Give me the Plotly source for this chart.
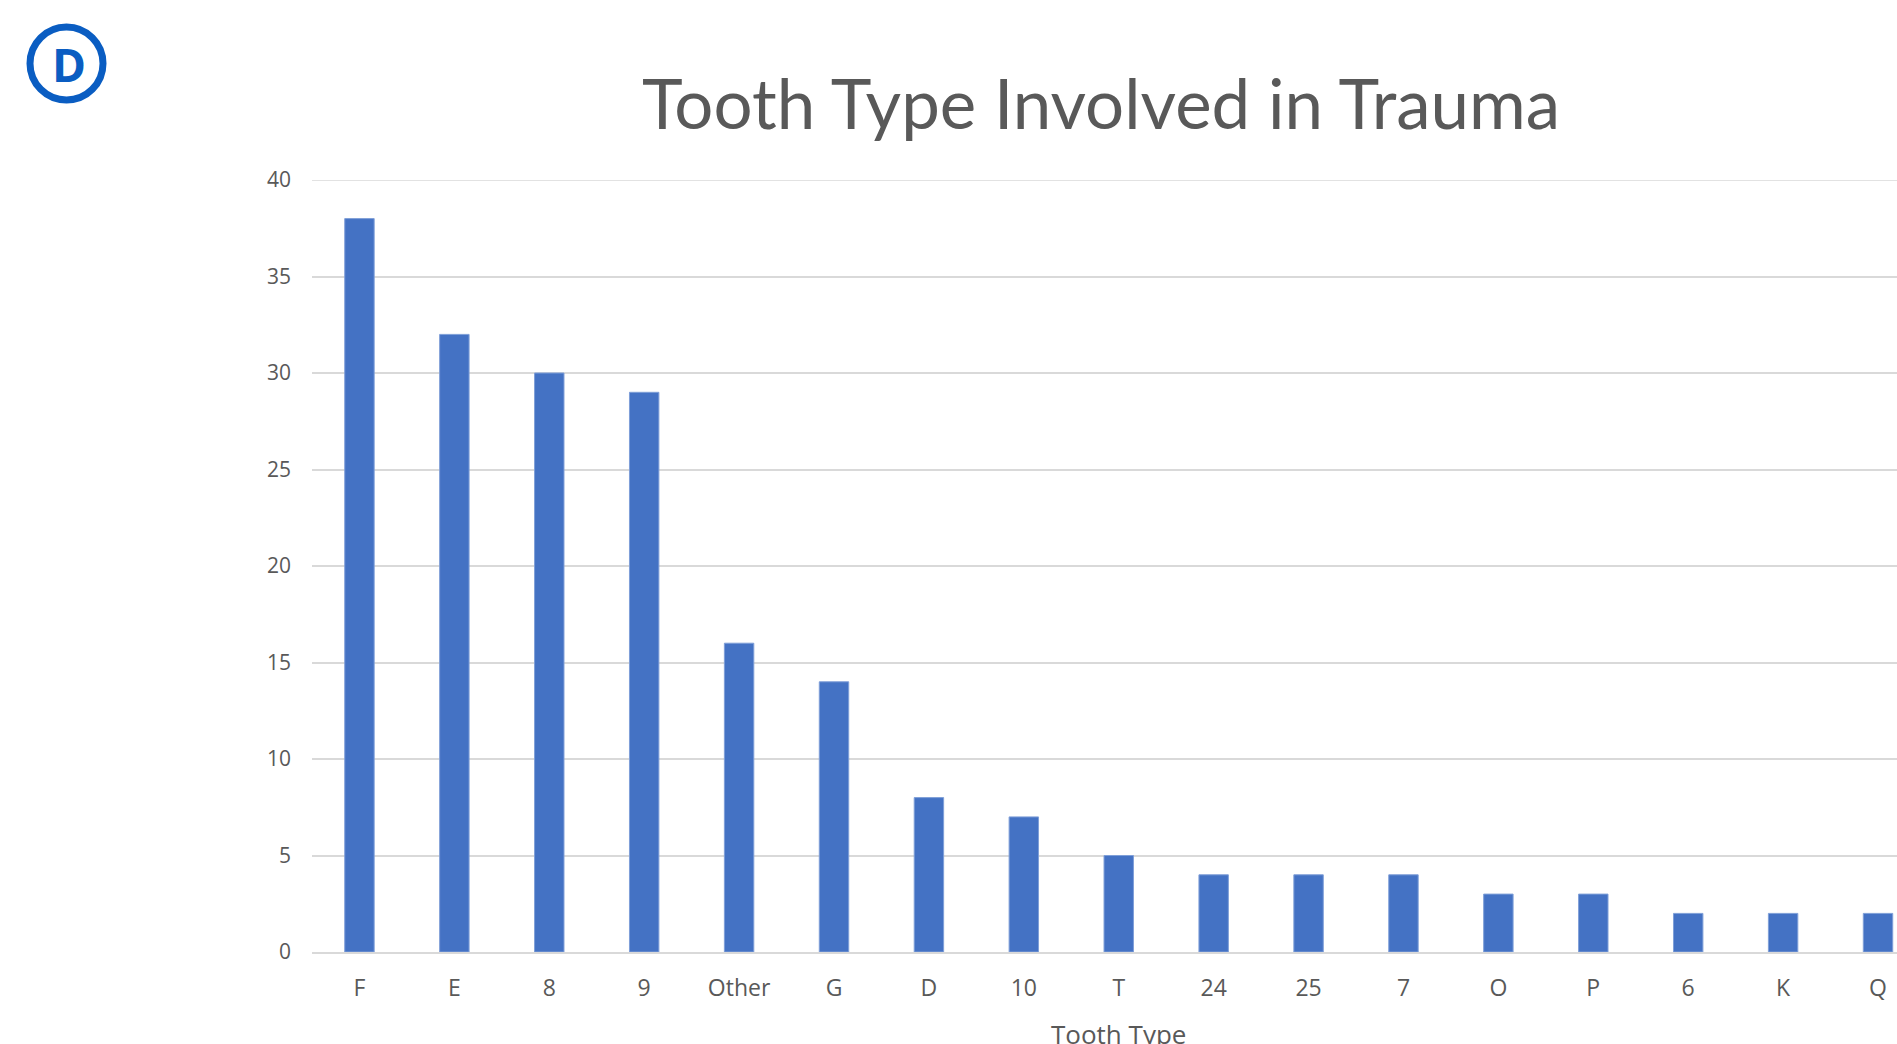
import plotly.graph_objects as go

categories = ["F", "E", "8", "9", "Other", "G", "D", "10", "T", "24", "25", "7", "O", "P", "6", "K", "Q"]
counts = [38, 32, 30, 29, 16, 14, 8, 7, 5, 4, 4, 4, 3, 3, 2, 2, 2]
y_ticks = [0, 5, 10, 15, 20, 25, 30, 35, 40]

W, H = 1897, 1044
PL, PR, PT, PB = 312, 1897, 180, 952  # plot area in pixels


def px(x):
    return (x - PL) / (PR - PL)


def py(y):
    return (PB - y) / (PB - PT)


TXT = "#595959"
BLUE = "#4472C4"
LOGO = "#0A5DC2"
GRID = "#D9D9D9"

fig = go.Figure(
    go.Bar(
        x=list(range(len(categories))),
        y=counts,
        marker=dict(color=BLUE, line=dict(color="#7F9FD8", width=1)),
        width=0.31,
        hoverinfo="x+y",
    )
)

fig.update_layout(
    width=W,
    height=H,
    margin=dict(l=PL, r=W - PR, t=PT, b=H - PB, pad=0),
    paper_bgcolor="white",
    plot_bgcolor="white",
    showlegend=False,
    font=dict(family="Open Sans", color=TXT),
    xaxis=dict(
        range=[-0.5, 16.2],
        tickmode="array",
        tickvals=list(range(len(categories))),
        ticktext=categories,
        showgrid=False,
        showline=True,
        linecolor=GRID,
        linewidth=2,
        ticks="",
        tickfont=dict(size=23, color=TXT),
        ticklabelstandoff=14,
        zeroline=False,
        fixedrange=True,
    ),
    yaxis=dict(
        range=[0, 40],
        tickmode="array",
        tickvals=y_ticks,
        showgrid=True,
        gridcolor=GRID,
        gridwidth=1.5,
        showline=False,
        zeroline=False,
        ticks="",
        tickfont=dict(size=21, color=TXT),
        ticklabelstandoff=20,
        fixedrange=True,
    ),
    annotations=[
        dict(
            text="Tooth Type Involved in Trauma",
            xref="paper", yref="paper",
            x=px(1101), y=py(102),
            xanchor="center", yanchor="middle",
            showarrow=False,
            font=dict(family="Lato", size=69, color=TXT),
        ),
        dict(
            text="Tooth Type",
            xref="x", yref="paper",
            x=8, y=py(1014),
            xanchor="center", yanchor="top",
            showarrow=False,
            font=dict(family="Open Sans", size=26, color=TXT),
        ),
        dict(
            text="<b>D</b>",
            xref="paper", yref="paper",
            x=px(68.5), y=py(64),
            xanchor="center", yanchor="middle",
            showarrow=False,
            font=dict(family="Open Sans", size=46, color=LOGO),
        ),
    ],
    shapes=[
        dict(
            type="circle",
            xref="paper", yref="paper",
            x0=px(30), x1=px(103), y0=py(27), y1=py(100),
            line=dict(color=LOGO, width=7),
            fillcolor="rgba(0,0,0,0)",
        ),
        dict(
            type="line",
            xref="paper", yref="y",
            x0=0, x1=1, y0=y_ticks[-1], y1=y_ticks[-1],
            line=dict(color=GRID, width=1.5),
            layer="below",
        ),
    ],
)

fig.write_html(
    "out.html",
    config={"displayModeBar": False},
    post_script="document.body.style.margin='0';document.body.style.overflow='hidden';",
)
